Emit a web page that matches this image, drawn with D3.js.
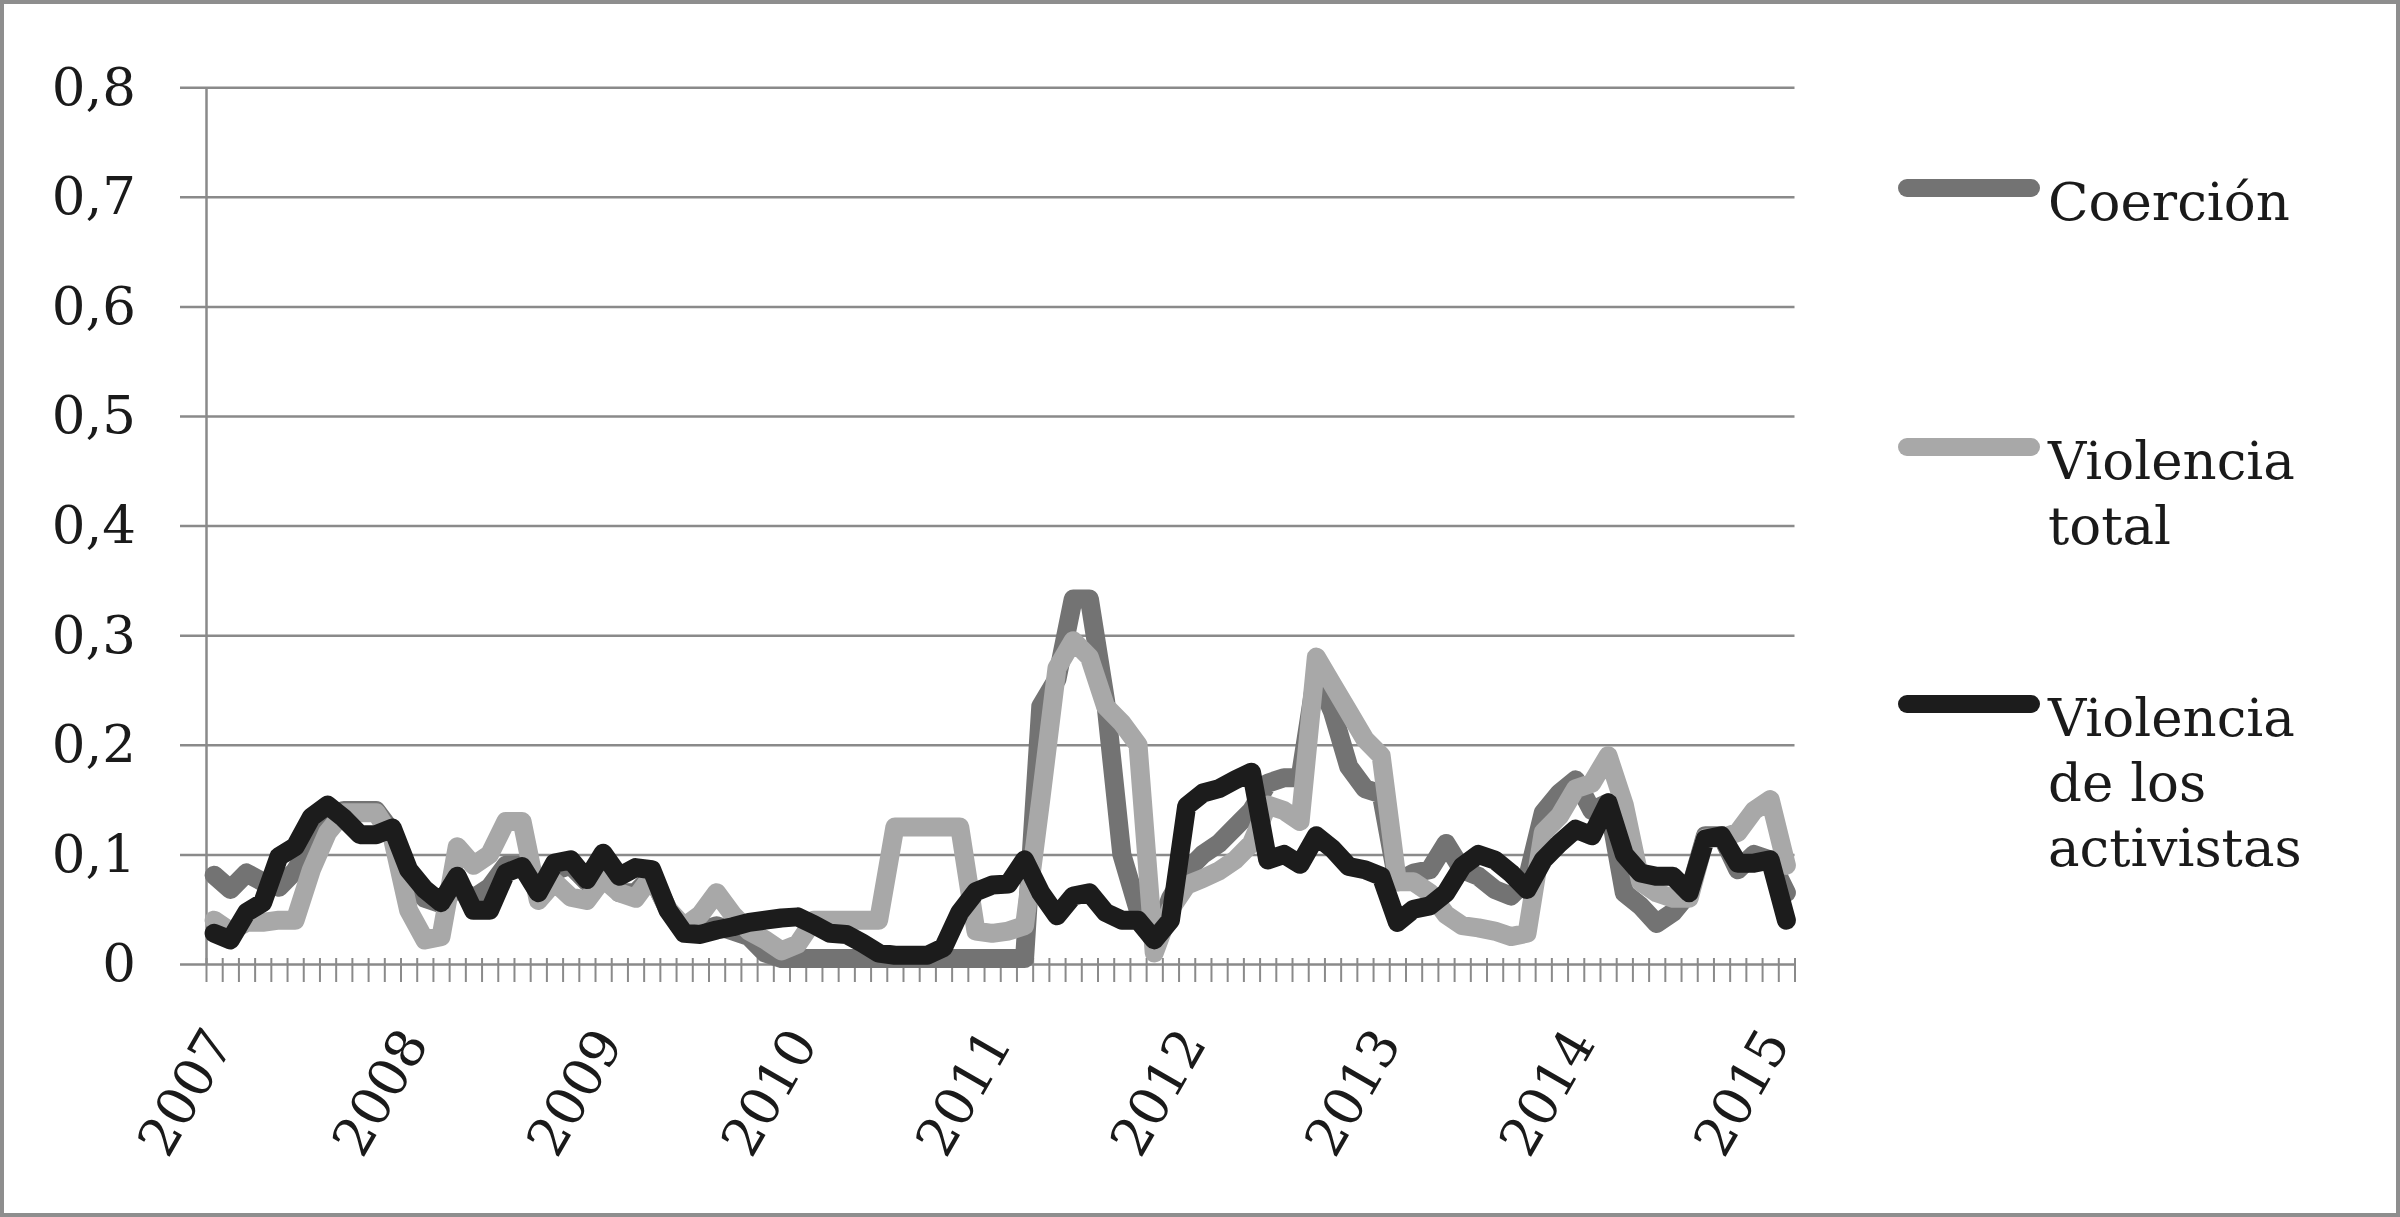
<!DOCTYPE html>
<html>
<head>
<meta charset="utf-8">
<script src="https://cdn.jsdelivr.net/npm/d3@7"></script>
<style>
  html, body { margin: 0; padding: 0; background: #ffffff; }
  svg { display: block; }
</style>
</head>
<body>
<svg id="chart" width="2400" height="1217"></svg>
<script>
// ---------------- DATA ----------------
const startYear = 2007;
const monthCount = 98; // Jan 2007 .. Feb 2015
const categories = d3.range(monthCount).map(i =>
  `${startYear + Math.floor(i / 12)}-${String(i % 12 + 1).padStart(2, "0")}`);

const yearLabels = ["2007", "2008", "2009", "2010", "2011", "2012", "2013", "2014", "2015"];

const yTicks = [0, 0.1, 0.2, 0.3, 0.4, 0.5, 0.6, 0.7, 0.8];
const yTickLabels = ["0", "0,1", "0,2", "0,3", "0,4", "0,5", "0,6", "0,7", "0,8"];

const seriesNames = ["Coerción", "Violencia total", "Violencia de los activistas"];
const legendLines = [["Coerción"], ["Violencia", "total"], ["Violencia", "de los", "activistas"]];

const coercion = [
  0.081, 0.068, 0.083, 0.075, 0.07, 0.085, 0.11, 0.135, 0.14, 0.14,
  0.14, 0.12, 0.075, 0.06, 0.055, 0.07, 0.06, 0.07, 0.09, 0.09,
  0.07, 0.085, 0.09, 0.075, 0.09, 0.065, 0.065, 0.08, 0.05, 0.03,
  0.03, 0.035, 0.03, 0.025, 0.01, 0.005, 0.005, 0.005, 0.005, 0.005,
  0.005, 0.005, 0.005, 0.005, 0.005, 0.005, 0.005, 0.005, 0.005, 0.005,
  0.005, 0.235, 0.26, 0.333, 0.333, 0.24, 0.1, 0.05, 0.02, 0.06,
  0.085, 0.1, 0.11, 0.125, 0.14, 0.165, 0.17, 0.17, 0.265, 0.23,
  0.18, 0.16, 0.155, 0.075, 0.083, 0.086, 0.11, 0.086, 0.08, 0.068,
  0.062, 0.077, 0.138, 0.156, 0.168, 0.14, 0.147, 0.065, 0.053, 0.037,
  0.047, 0.065, 0.117, 0.117, 0.086, 0.1, 0.095, 0.065
];

const violenciaTotal = [
  0.04, 0.03, 0.038, 0.038, 0.04, 0.04, 0.086, 0.12, 0.138, 0.138,
  0.138, 0.115, 0.049, 0.022, 0.025, 0.107, 0.09, 0.1, 0.13, 0.13,
  0.058, 0.075, 0.061, 0.058, 0.078, 0.065, 0.06, 0.08, 0.05, 0.034,
  0.045, 0.065, 0.045, 0.03, 0.022, 0.012, 0.018, 0.04, 0.04, 0.04,
  0.04, 0.04, 0.125, 0.125, 0.125, 0.125, 0.125, 0.03, 0.028, 0.03,
  0.035, 0.15, 0.27, 0.295, 0.28, 0.235, 0.22, 0.2, 0.01, 0.05,
  0.072, 0.078, 0.085, 0.095, 0.11, 0.145, 0.14, 0.13, 0.28, 0.255,
  0.23, 0.205, 0.19, 0.075, 0.075, 0.065, 0.045, 0.035, 0.033, 0.03,
  0.025, 0.028, 0.12, 0.135, 0.16, 0.165, 0.19, 0.145, 0.075, 0.065,
  0.06, 0.06, 0.115, 0.115, 0.12, 0.14, 0.15, 0.09
];

const violenciaActivistas = [
  0.028, 0.022, 0.047, 0.056, 0.098, 0.107, 0.134, 0.145, 0.133, 0.118,
  0.118, 0.124, 0.086, 0.068, 0.056, 0.08, 0.049, 0.049, 0.083, 0.089,
  0.065, 0.092, 0.095, 0.077, 0.101, 0.08, 0.088, 0.086, 0.049, 0.028,
  0.027, 0.031, 0.034, 0.038, 0.04, 0.042, 0.043, 0.036, 0.028, 0.027,
  0.019, 0.01, 0.008, 0.008, 0.008, 0.015, 0.047, 0.066, 0.072, 0.073,
  0.095, 0.065, 0.044, 0.062, 0.065, 0.047, 0.04, 0.04, 0.022, 0.04,
  0.144, 0.156, 0.16, 0.168, 0.175, 0.095, 0.1, 0.091, 0.117, 0.105,
  0.089, 0.086, 0.08, 0.038, 0.05, 0.053, 0.065, 0.089, 0.1, 0.095,
  0.083, 0.068, 0.095, 0.11, 0.123, 0.117, 0.147, 0.1, 0.083, 0.08,
  0.08, 0.065, 0.114, 0.117, 0.092, 0.092, 0.095, 0.04
];

const seriesValues = [coercion, violenciaTotal, violenciaActivistas];
const seriesColors = ["#737373", "#a8a8a8", "#1c1c1c"];

// ---------------- LAYOUT ----------------
const W = 2400, H = 1217;
const plot = { left: 206, right: 1794.5, top: 87.2, bottom: 964 };
const FONT = "'DejaVu Serif', 'Liberation Serif', serif";
const gridColor = "#8a8a8a";

const svg = d3.select("#chart");

svg.append("rect")
  .attr("x", 2).attr("y", 2).attr("width", W - 4).attr("height", H - 4)
  .attr("fill", "#ffffff").attr("stroke", "#8e8e8e").attr("stroke-width", 4);

const x = d3.scaleBand().domain(categories).range([plot.left, plot.right]).padding(0);
const xEdge = d3.scaleLinear().domain([0, categories.length]).range([plot.left, plot.right]);
const y = d3.scaleLinear().domain([0, 0.8]).range([plot.bottom, plot.top]);

// horizontal gridlines (extend left of the axis like outside tick marks)
const grid = svg.append("g")
  .attr("transform", `translate(180,0)`)
  .call(d3.axisRight(y).tickValues(yTicks).tickSize(plot.right - 180).tickFormat(""));
grid.select(".domain").remove();
grid.selectAll(".tick line").attr("stroke", gridColor).attr("stroke-width", 2.5);

// y axis line + labels
const yAxis = svg.append("g")
  .attr("transform", `translate(${plot.left},0)`)
  .call(d3.axisLeft(y).tickValues(yTicks).tickSize(0).tickSizeOuter(0).tickPadding(70)
    .tickFormat((d, i) => yTickLabels[i]));
yAxis.select(".domain").attr("stroke", gridColor).attr("stroke-width", 2.5);
yAxis.selectAll(".tick text")
  .attr("font-family", FONT).attr("font-size", 53).attr("fill", "#1a1a1a");

// x tick marks at category boundaries
const xTicks = svg.append("g")
  .attr("transform", `translate(0,${plot.bottom - 6})`)
  .call(d3.axisBottom(xEdge).tickValues(d3.range(categories.length + 1)).tickSize(24).tickFormat(""));
xTicks.select(".domain").remove();
xTicks.selectAll(".tick line").attr("stroke", gridColor).attr("stroke-width", 2);

// year labels (rotated)
svg.append("g").selectAll("text")
  .data(yearLabels)
  .join("text")
  .attr("transform", d => {
    const cat = `${d}-01`;
    return `translate(${x(cat) + x.bandwidth() / 2 + 21},1043) rotate(-60)`;
  })
  .attr("text-anchor", "end")
  .attr("font-family", FONT).attr("font-size", 53).attr("fill", "#1a1a1a")
  .text(d => d);

// series lines
const line = d3.line()
  .x((d, i) => x(categories[i]) + x.bandwidth() / 2)
  .y(d => y(d));

svg.append("g").selectAll("path")
  .data(seriesValues)
  .join("path")
  .attr("d", d => line(d))
  .attr("fill", "none")
  .attr("stroke", (d, i) => seriesColors[i])
  .attr("stroke-width", 19)
  .attr("stroke-linejoin", "round")
  .attr("stroke-linecap", "round");

// legend
const legendY = [188, 447, 704];
const legend = svg.append("g");
seriesNames.forEach((name, i) => {
  legend.append("line")
    .attr("x1", 1907).attr("x2", 2031)
    .attr("y1", legendY[i]).attr("y2", legendY[i])
    .attr("stroke", seriesColors[i]).attr("stroke-width", 18)
    .attr("stroke-linecap", "round");
  const t = legend.append("text")
    .attr("font-family", FONT).attr("font-size", 53).attr("fill", "#1a1a1a");
  legendLines[i].forEach((ln, k) => {
    t.append("tspan").attr("x", 2048).attr("y", legendY[i] + 32 + k * 65).text(ln);
  });
});
</script>
</body>
</html>
